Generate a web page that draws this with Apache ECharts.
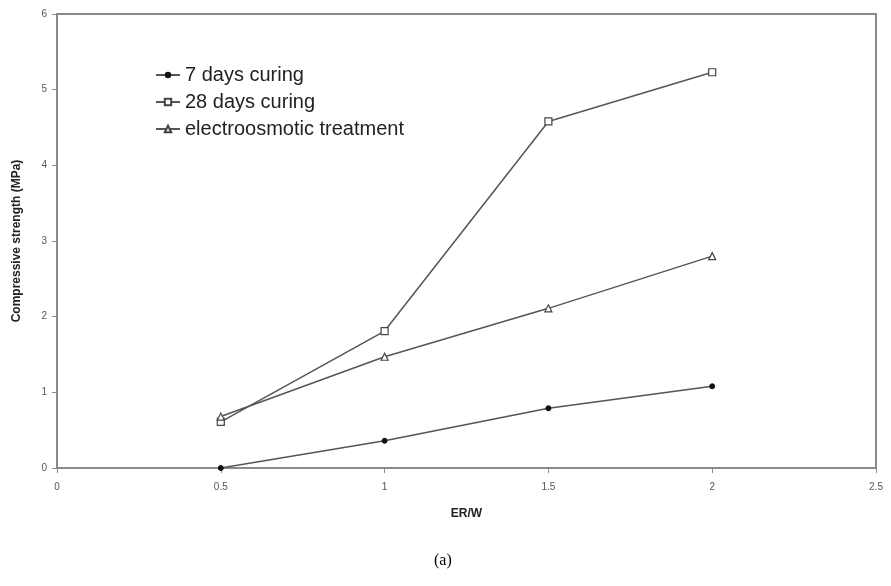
<!DOCTYPE html>
<html>
<head>
<meta charset="utf-8">
<script src="https://cdn.jsdelivr.net/npm/echarts@6/dist/echarts.min.js"></script>
<style>
html, body { margin: 0; padding: 0; background: #fff; }
#main { width: 891px; height: 586px; }
</style>
</head>
<body>
<div id="main"></div>
<script>
var erw = [0.5, 1, 1.5, 2];
var days7 = [0, 0.36, 0.79, 1.08];
var days28 = [0.61, 1.81, 4.58, 5.23];
var electro = [0.68, 1.47, 2.11, 2.80];

function pairs(ys) {
    return erw.map(function (x, i) { return [x, ys[i]]; });
}

var lineCol = '#555';
var axisCol = '#8a8a8a';

var chart = echarts.init(document.getElementById('main'));
chart.setOption({
    animation: false,
    backgroundColor: '#fff',
    textStyle: { fontFamily: 'Liberation Sans, Arial, sans-serif' },
    grid: { left: 57, right: 15, top: 14, bottom: 118, show: true, borderColor: axisCol, borderWidth: 2, backgroundColor: 'transparent' },
    legend: {
        left: 150, top: 60, orient: 'vertical', itemGap: 7,
        itemWidth: 24, itemHeight: 8,
        textStyle: { fontSize: 20, color: '#222' },
        data: ['7 days curing', '28 days curing', 'electroosmotic treatment']
    },
    xAxis: {
        type: 'value', min: 0, max: 2.5, interval: 0.5,
        name: 'ER/W', nameLocation: 'middle', nameGap: 40,
        nameTextStyle: { fontSize: 12, fontWeight: 'bold', color: '#222' },
        axisLine: { lineStyle: { color: axisCol, width: 2 } },
        axisTick: { show: true, length: 5, lineStyle: { color: axisCol } },
        axisLabel: { fontSize: 10, color: '#555', margin: 14 },
        splitLine: { show: false }
    },
    yAxis: {
        type: 'value', min: 0, max: 6, interval: 1,
        name: 'Compressive strength (MPa)', nameLocation: 'middle', nameGap: 34,
        nameTextStyle: { fontSize: 12, fontWeight: 'bold', color: '#222' },
        axisLine: { lineStyle: { color: axisCol, width: 2 } },
        axisTick: { show: true, length: 5, lineStyle: { color: axisCol } },
        axisLabel: { fontSize: 10, color: '#555', margin: 10 },
        splitLine: { show: false }
    },
    graphic: [{
        type: 'text', left: 434, top: 553,
        style: { text: '(a)', fontFamily: 'Liberation Serif, Times New Roman, serif', fontSize: 16, fill: '#000' }
    }],
    series: [
        {
            name: '7 days curing', type: 'line', data: pairs(days7),
            symbol: 'circle', symbolSize: 5,
            lineStyle: { color: lineCol, width: 1.5 },
            itemStyle: { color: '#111', borderColor: '#111' }
        },
        {
            name: '28 days curing', type: 'line', data: pairs(days28),
            symbol: 'rect', symbolSize: 7,
            lineStyle: { color: lineCol, width: 1.5 },
            itemStyle: { color: '#fff', borderColor: '#444', borderWidth: 1.2 }
        },
        {
            name: 'electroosmotic treatment', type: 'line', data: pairs(electro),
            symbol: 'triangle', symbolSize: 7,
            lineStyle: { color: lineCol, width: 1.5 },
            itemStyle: { color: '#fff', borderColor: '#444', borderWidth: 1.2 }
        }
    ]
});
</script>
</body>
</html>
